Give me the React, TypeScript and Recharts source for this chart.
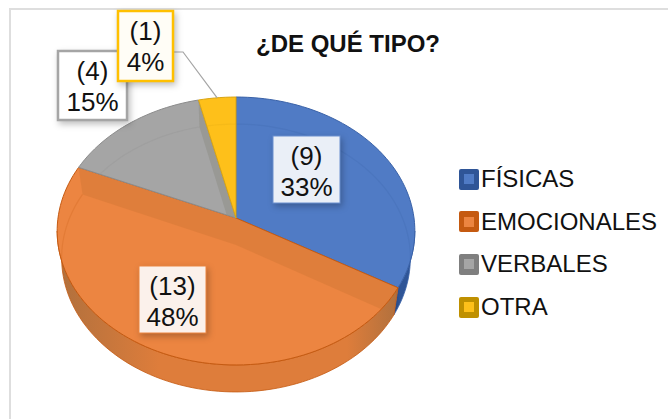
import { Legend, Pie, PieChart } from "recharts";

const categories = ["FÍSICAS", "EMOCIONALES", "VERBALES", "OTRA"];
const counts = [9, 13, 4, 1];

const faceColors = ["#507BC5", "#EC8541", "#A5A5A5", "#FEC01A"];
const rimColors = ["#3A62A8", "#C55A11", "#8C8C8C", "#D9A514"];
const wallDark = ["#24467F", "#B0703D", "#7F7F7F", "#BF9000"];
const wallMid = ["#2F5597", "#DE7D3B", "#989894", "#D9A514"];
const swatchColors = ["#2F5597", "#C55A11", "#7F7F7F", "#BF9000"];
const boxFills = ["#EAEFF7", "#FBF1EB", "#FFFFFF", "#FFFDF6"];
const boxBorders = ["#6A8FCF", "#EC8541", "#A5A5A5", "#FFC000"];
const boxBorderWidths = [1, 1, 2.5, 2.5];

// label boxes were dragged by hand in the original: left, top, width, height
const labelBoxes = [
  [273, 136, 67, 67],
  [139, 266, 67, 67],
  [58, 51, 69, 69],
  [118, 11, 55, 70],
];

const rows = categories.map((name, i) => ({
  name,
  value: counts[i],
  fill: faceColors[i],
}));

// 3D look: circle seen in perspective, extruded downwards
const TILT = 0.7455;
const PERSPECTIVE = 0.097;
const DEPTH = 27;
const BASE_INSET = 0.975;
// the outer wall only faces the viewer between these two angles
const WALL_FROM = (Math.acos(-PERSPECTIVE) * 180) / Math.PI;
const WALL_TO = 360 - WALL_FROM;

function project(cx: number, cy: number, r: number, phi: number) {
  const rad = (phi * Math.PI) / 180;
  const w = 1 + PERSPECTIVE * Math.cos(rad);
  return {
    x: cx + (r * Math.sin(rad)) / w,
    y: cy - (r * TILT * Math.cos(rad)) / w,
  };
}

function arcPoints(cx: number, cy: number, r: number, from: number, to: number) {
  const pts = [];
  const steps = Math.max(4, Math.ceil(Math.abs(to - from) / 2));
  for (let i = 0; i <= steps; i++) {
    pts.push(project(cx, cy, r, from + ((to - from) * i) / steps));
  }
  return pts;
}

const toPath = (pts: { x: number; y: number }[], close = true) =>
  pts.map((p, i) => `${i ? "L" : "M"}${p.x.toFixed(2)},${p.y.toFixed(2)}`).join("") + (close ? "Z" : "");

// same outline, moved down to the base of the pie
const toBase = (pts: { x: number; y: number }[], cx: number) =>
  pts.map((p) => ({ x: cx + (p.x - cx) * BASE_INSET, y: p.y + DEPTH }));

function Slice(props: any) {
  const { cx, cy, outerRadius, startAngle, endAngle, index } = props;
  const from = 90 - startAngle;
  const to = 90 - endAngle;
  const apex = { x: cx, y: cy };
  const rim = arcPoints(cx, cy, outerRadius, from, to);
  const face = toPath([apex, ...rim]);
  const clipId = `slice-clip-${index}`;
  const gradId = `slice-wall-${index}`;

  const wallStart = Math.max(from, WALL_FROM);
  const wallEnd = Math.min(to, WALL_TO);
  const wallRim = wallEnd > wallStart ? arcPoints(cx, cy, outerRadius, wallStart, wallEnd) : null;

  const edges: { x: number; y: number }[][] = [];
  if (Math.sin((from * Math.PI) / 180) > 0.01) edges.push([apex, rim[0]]);
  if (Math.sin((to * Math.PI) / 180) < -0.01) edges.push([apex, rim[rim.length - 1]]);

  return (
    <g>
      <defs>
        <clipPath id={clipId}>
          <path d={face} />
        </clipPath>
        <linearGradient id={gradId} x1="0" y1="0" x2="1" y2="0">
          <stop offset="0%" stopColor={wallDark[index]} />
          <stop offset="30%" stopColor={wallMid[index]} />
          <stop offset="85%" stopColor={wallMid[index]} />
          <stop offset="100%" stopColor={wallDark[index]} />
        </linearGradient>
      </defs>
      {wallRim && (
        <path
          d={toPath([...wallRim, ...toBase(wallRim, cx).reverse()])}
          fill={`url(#${gradId})`}
          stroke={rimColors[index]}
          strokeWidth={0.8}
        />
      )}
      <path d={face} fill={faceColors[index]} />
      <g clipPath={`url(#${clipId})`}>
        <path d={toPath(toBase(rim, cx), false)} fill="none" stroke={rimColors[index]} strokeOpacity={0.22} strokeWidth={1.2} />
        {edges.map((edge, i) => (
          <path
            key={i}
            d={toPath([edge[0], edge[1], ...toBase(edge, cx).reverse()])}
            fill={wallMid[index]}
            fillOpacity={0.9}
          />
        ))}
      </g>
      <path d={face} fill="none" stroke={rimColors[index]} strokeWidth={1} />
    </g>
  );
}

function SliceLabel(props: any) {
  const { index, value, percent, cx, cy, outerRadius, startAngle, endAngle } = props;
  const [left, top, width, height] = labelBoxes[index];
  const mid = left + width / 2;
  const anchor = project(cx, cy, outerRadius, 90 - (startAngle + endAngle) / 2);
  return (
    <g>
      {index === 3 && (
        <path
          d={`M${left + width},${top + 41}L${left + width + 10},${top + 41}L${anchor.x},${anchor.y}`}
          fill="none"
          stroke="#A5A5A5"
          strokeWidth={1.2}
        />
      )}
      <rect
        x={left}
        y={top}
        width={width}
        height={height}
        fill={boxFills[index]}
        stroke={boxBorders[index]}
        strokeWidth={boxBorderWidths[index]}
        style={{ filter: "drop-shadow(2px 3px 3px rgba(0,0,0,0.25))" }}
      />
      <text x={mid} y={top + 29} textAnchor="middle" fontSize={26} fill="#111">
        ({value})
      </text>
      <text x={mid} y={top + 60} textAnchor="middle" fontSize={26} fill="#111">
        {Math.round(percent * 100)}%
      </text>
    </g>
  );
}

function LegendList({ payload }: any) {
  return (
    <div>
      {(payload || []).map((entry: any, i: number) => (
        <div key={entry.value} style={{ display: "flex", alignItems: "center", height: 42.6 }}>
          <div
            style={{
              width: 20,
              height: 21,
              borderRadius: 2,
              background: swatchColors[i],
              display: "flex",
              alignItems: "center",
              justifyContent: "center",
              marginRight: 2,
            }}
          >
            <div style={{ width: 10, height: 10, background: faceColors[i] }} />
          </div>
          <span style={{ fontSize: 24, color: "#111", lineHeight: "26px" }}>{entry.value}</span>
        </div>
      ))}
    </div>
  );
}

export default function App() {
  return (
    <div
      style={{
        position: "fixed",
        left: 0,
        top: 0,
        width: 668,
        height: 419,
        background: "#fff",
        fontFamily: "'Liberation Sans', Arial, sans-serif",
      }}
    >
      <div
        style={{
          position: "absolute",
          left: 9,
          top: 8,
          right: 0,
          bottom: 0,
          borderLeft: "2px solid #DEDEDE",
          borderTop: "2px solid #DEDEDE",
        }}
      />
      <PieChart width={668} height={419} margin={{ top: 0, right: 0, bottom: 0, left: 0 }} style={{ position: "absolute" }}>
        <text x={348} y={52} textAnchor="middle" fontSize={24} fontWeight="bold" fill="#111">
          ¿DE QUÉ TIPO?
        </text>
        <Pie
          data={rows}
          dataKey="value"
          nameKey="name"
          cx={236}
          cy={218}
          outerRadius={178}
          startAngle={90}
          endAngle={-270}
          stroke="none"
          shape={Slice}
          label={SliceLabel}
          labelLine={false}
          isAnimationActive={false}
        />
        <Legend
          content={LegendList}
          itemSorter={null}
          layout="vertical"
          wrapperStyle={{ left: 459, top: 158, width: 209 }}
        />
      </PieChart>
    </div>
  );
}
